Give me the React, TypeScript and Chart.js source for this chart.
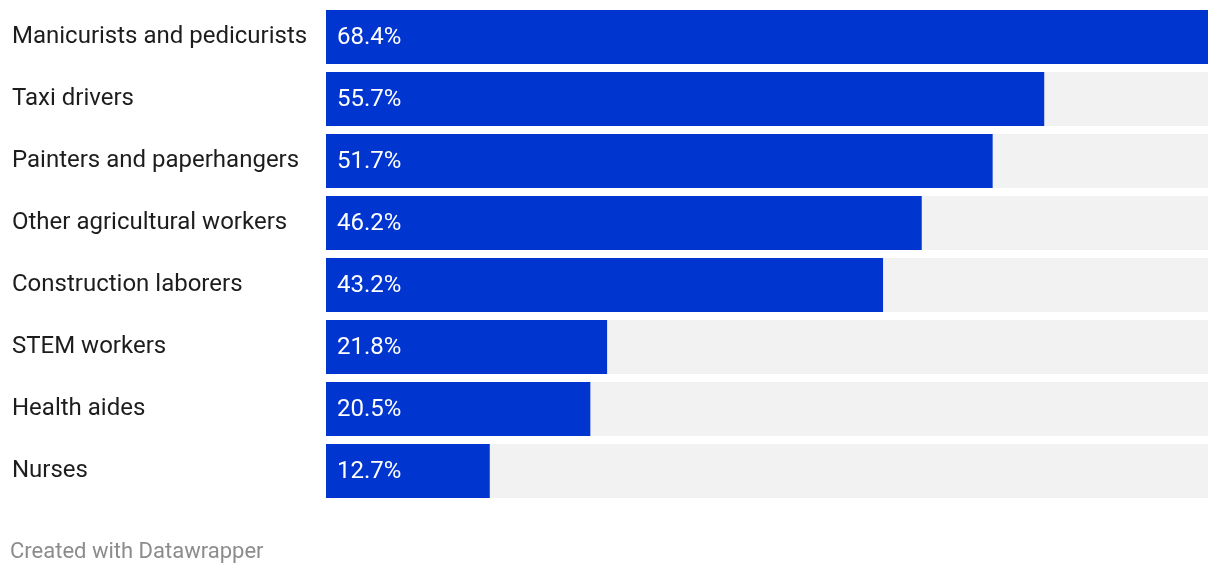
import React, { useEffect, useRef } from "react";
import { Chart, registerables } from "chart.js";

Chart.register(...registerables);

const categories = [
  "Manicurists and pedicurists",
  "Taxi drivers",
  "Painters and paperhangers",
  "Other agricultural workers",
  "Construction laborers",
  "STEM workers",
  "Health aides",
  "Nurses",
];
const values = [68.4, 55.7, 51.7, 46.2, 43.2, 21.8, 20.5, 12.7];
const maxValue = 68.4;
const backgroundValues = categories.map(() => maxValue);

const BLUE = "#0035cf";
const GREY = "#f2f2f2";
const FONT = "Roboto, 'Noto Sans', sans-serif";

const valueLabelPlugin = {
  id: "valueLabels",
  afterDatasetsDraw(chart: any) {
    const meta = chart.getDatasetMeta(0);
    const ctx = chart.ctx;
    ctx.save();
    ctx.fillStyle = "#ffffff";
    ctx.font = `24px ${FONT}`;
    ctx.textAlign = "left";
    ctx.textBaseline = "middle";
    meta.data.forEach((bar: any, i: number) => {
      const left = bar.base;
      ctx.fillText(values[i].toFixed(1) + "%", left + 11, bar.y + 1);
    });
    ctx.restore();
  },
};

export default function App() {
  const ref = useRef<HTMLCanvasElement | null>(null);
  useEffect(() => {
    document.body.style.margin = "0";
    const chart = new Chart(ref.current!, {
      type: "bar",
      data: {
        labels: categories,
        datasets: [
          {
            data: values,
            backgroundColor: BLUE,
            borderWidth: 0,
            grouped: false,
            order: 1,
            barPercentage: 54 / 62,
            categoryPercentage: 1,
          },
          {
            data: backgroundValues,
            backgroundColor: GREY,
            borderWidth: 0,
            grouped: false,
            order: 2,
            barPercentage: 54 / 62,
            categoryPercentage: 1,
          },
        ],
      },
      options: {
        indexAxis: "y",
        animation: false,
        responsive: false,
        maintainAspectRatio: false,
        layout: { padding: { left: 12, top: 6, right: 12, bottom: 72 } },
        plugins: {
          legend: { display: false },
          tooltip: { enabled: false },
        },
        scales: {
          x: {
            min: 0,
            max: maxValue,
            display: false,
            grid: { display: false },
          },
          y: {
            grid: { display: false },
            border: { display: false },
            ticks: {
              crossAlign: "far",
              color: "#1d1d1d",
              font: { family: FONT, size: 24 },
              padding: 0,
            },
            afterFit(scale: any) {
              scale.width = 314;
              scale.paddingTop = 0;
              scale.paddingBottom = 0;
            },
          },
        },
      } as any,
      plugins: [valueLabelPlugin],
    });
    return () => chart.destroy();
  }, []);

  return (
    <div style={{ position: "relative", width: 1220, height: 574 }}>
      <canvas ref={ref} width={1220} height={574} style={{ display: "block" }} />
      <div
        style={{
          position: "absolute",
          left: 10,
          top: 538,
          fontFamily: FONT,
          fontSize: 22,
          color: "#8c8c8c",
          lineHeight: "26px",
        }}
      >
        Created with Datawrapper
      </div>
    </div>
  );
}
